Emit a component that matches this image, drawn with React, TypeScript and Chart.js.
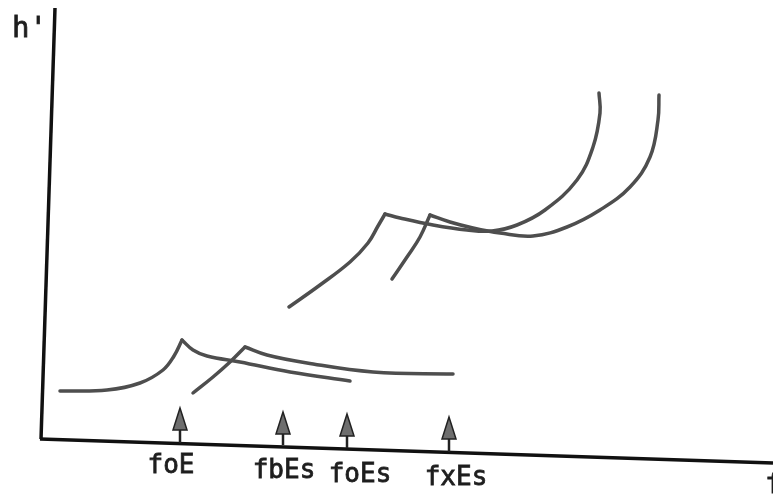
import React, { useEffect, useRef } from "react";
import { Chart, registerables } from "chart.js";

Chart.register(...registerables);

// Axes (arbitrary units: frequency f, virtual height h')
const yAxisF = [1.5, 0.1];
const yAxisH = [43.1, 0];
const xAxisF = [0, 73.3];
const xAxisH = [0, -2.4];

// E layer, ordinary trace
const eORiseF = [2.0, 6.7, 10.0, 12.3, 13.4, 14.2];
const eORiseH = [4.8, 4.9, 5.6, 6.9, 8.3, 9.9];
const eOFallF = [14.2, 15.3, 16.7, 20.0, 25.0, 31.0];
const eOFallH = [9.9, 8.9, 8.3, 7.7, 6.7, 5.8];

// E layer, extraordinary trace
const eXRiseF = [15.3, 17.3, 19.0, 20.5];
const eXRiseH = [4.6, 6.2, 7.7, 9.2];
const eXFallF = [20.5, 22.7, 26.7, 33.3, 41.3];
const eXFallH = [9.2, 8.4, 7.6, 6.7, 6.5];

// Es / F ordinary trace
const fORiseF = [24.9, 28.0, 31.0, 32.8, 33.8, 34.5];
const fORiseH = [13.2, 15.4, 17.7, 19.6, 21.3, 22.5];
const fOUpperF = [34.5, 36.0, 39.3, 42.7, 45.2, 47.7, 50.5, 53.7, 55.3, 56.0, 55.9];
const fOUpperH = [22.5, 22.1, 21.4, 20.9, 20.8, 21.4, 22.9, 25.9, 29.2, 32.6, 34.6];

// Es / F extraordinary trace
const fXRiseF = [35.2, 36.7, 38.0, 39.0];
const fXRiseH = [16.0, 18.2, 20.2, 22.4];
const fXUpperF = [39.0, 41.0, 43.3, 46.0, 49.3, 52.7, 56.0, 59.0, 61.0, 61.8, 61.9];
const fXUpperH = [22.4, 21.7, 21.1, 20.6, 20.3, 21.2, 22.9, 25.2, 28.2, 31.9, 34.4];

// Frequency markers (arrows) and their labels
const markerLabels = ["foE", "fbEs", "foEs", "fxEs"];
const markerF = [14.0, 24.3, 30.7, 40.9];
const markerTipH = [3.1, 2.7, 2.5, 2.2];
const markerBaseH = [-0.4, -0.6, -0.9, -1.3];
const labelF = [13.1, 24.4, 32.0, 41.6];
const labelH = [-3.4, -3.9, -4.3, -4.6];

// Axis titles
const axisTitles = ["h'", "f"];
const axisTitleF = [-2.8, 72.5];
const axisTitleH = [40.2, -5.4];

const toPts = (fs: number[], hs: number[]) => fs.map((f, i) => ({ x: f, y: hs[i] }));

const TRACE = "#4e4e4e";

export default function App() {
  const ref = useRef<HTMLCanvasElement | null>(null);

  useEffect(() => {
    if (!ref.current) return;

    const trace = (fs: number[], hs: number[]) => ({
      data: toPts(fs, hs),
      showLine: true,
      borderColor: TRACE,
      borderWidth: 3.5,
      pointRadius: 0,
      tension: 0.4,
      fill: false,
      clip: false as any,
      borderCapStyle: "round" as const,
    });
    const axis = (fs: number[], hs: number[]) => ({
      data: toPts(fs, hs),
      showLine: true,
      borderColor: "#111",
      borderWidth: 3.5,
      pointRadius: 0,
      tension: 0,
      fill: false,
      clip: false as any,
    });

    const annotate = {
      id: "annotate",
      afterDatasetsDraw(chart: any) {
        const { ctx } = chart;
        const xs = chart.scales.x;
        const ys = chart.scales.y;
        ctx.save();
        // arrows
        markerF.forEach((f, i) => {
          const px = xs.getPixelForValue(f);
          const tip = ys.getPixelForValue(markerTipH[i]);
          const base = ys.getPixelForValue(markerBaseH[i]);
          const triBase = tip + 22;
          ctx.strokeStyle = "#222";
          ctx.lineWidth = 2.5;
          ctx.beginPath();
          ctx.moveTo(px, triBase);
          ctx.lineTo(px, base);
          ctx.stroke();
          ctx.beginPath();
          ctx.moveTo(px, tip);
          ctx.lineTo(px + 7, triBase);
          ctx.lineTo(px - 7, triBase);
          ctx.closePath();
          ctx.fillStyle = "#6e6e6e";
          ctx.fill();
          ctx.lineWidth = 1.5;
          ctx.stroke();
        });
        // labels
        ctx.fillStyle = "#1e1e1e";
        ctx.strokeStyle = "#1e1e1e";
        ctx.lineWidth = 0.8;
        ctx.textAlign = "center";
        ctx.textBaseline = "alphabetic";
        ctx.font = "26px 'DejaVu Sans Mono'";
        markerLabels.forEach((t, i) => {
          const x = xs.getPixelForValue(labelF[i]);
          const y = ys.getPixelForValue(labelH[i]);
          ctx.fillText(t, x, y);
          ctx.strokeText(t, x, y);
        });
        ctx.textAlign = "left";
        ctx.font = "29px 'DejaVu Sans Mono'";
        axisTitles.forEach((t, i) => {
          const x = xs.getPixelForValue(axisTitleF[i]);
          const y = ys.getPixelForValue(axisTitleH[i]);
          ctx.fillText(t, x, y);
          ctx.strokeText(t, x, y);
        });
        ctx.restore();
      },
    };

    const chart = new Chart(ref.current, {
      type: "scatter",
      data: {
        datasets: [
          axis(yAxisF, yAxisH),
          axis(xAxisF, xAxisH),
          trace(eORiseF, eORiseH),
          trace(eOFallF, eOFallH),
          trace(eXRiseF, eXRiseH),
          trace(eXFallF, eXFallH),
          trace(fORiseF, fORiseH),
          trace(fOUpperF, fOUpperH),
          trace(fXRiseF, fXRiseH),
          trace(fXUpperF, fXUpperH),
        ] as any,
      },
      options: {
        responsive: false,
        animation: false,
        events: [],
        layout: { padding: 0 },
        plugins: { legend: { display: false }, tooltip: { enabled: false } },
        scales: {
          x: { type: "linear", min: -4, max: 73.3, display: false },
          y: { type: "linear", min: -5.8, max: 43.9, display: false },
        },
      },
      plugins: [annotate],
    });
    return () => chart.destroy();
  }, []);

  return (
    <div style={{ position: "fixed", left: 0, top: 0, width: 773, height: 497, background: "#fff" }}>
      <canvas ref={ref} width={773} height={497} style={{ display: "block" }} />
    </div>
  );
}
